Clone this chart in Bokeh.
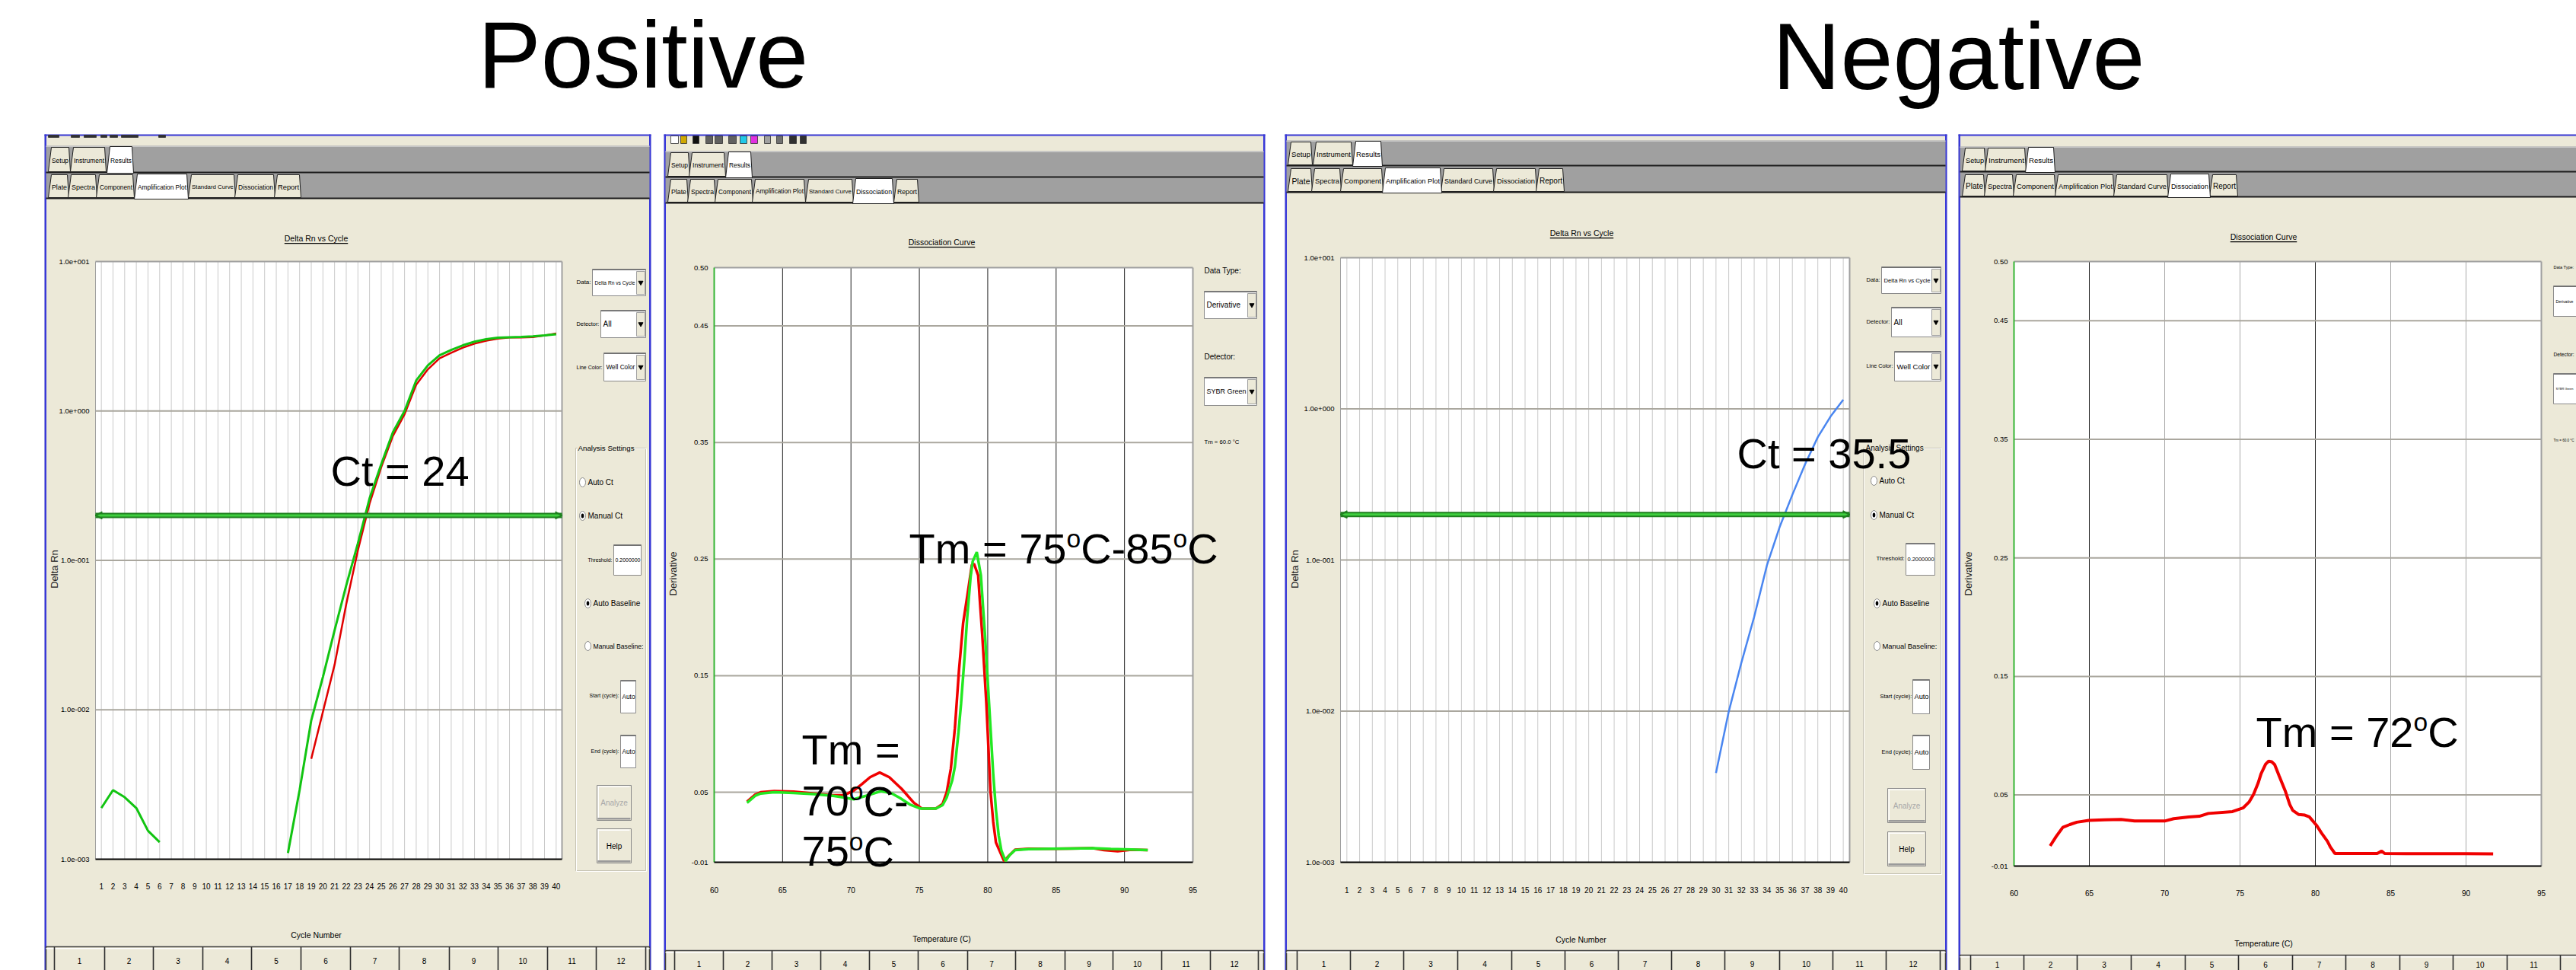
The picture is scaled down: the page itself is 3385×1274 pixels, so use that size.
import math
from bokeh.plotting import figure
from bokeh.models import Range1d, LogScale, ColumnDataSource, Arrow, OpenHead
from bokeh.embed import file_html
from bokeh.resources import INLINE
from bokeh.core.properties import value

NaN = float("nan")

# ------------------------------------------------------------------ data
SECTION_TITLES = ["Positive", "Negative"]
CYCLES = list(range(1, 41))
CYCLE_LABELS = [str(c) for c in CYCLES]
AMP_Y_TICKS = [1e-3, 1e-2, 1e-1, 1e0, 1e1]
AMP_Y_LABELS = ["1.0e-003", "1.0e-002", "1.0e-001", "1.0e+000", "1.0e+001"]
MELT_X_TICKS = [60, 65, 70, 75, 80, 85, 90, 95]
MELT_X_LABELS = ["60", "65", "70", "75", "80", "85", "90", "95"]
MELT_Y_TICKS = [-0.01, 0.05, 0.15, 0.25, 0.35, 0.45, 0.50]
MELT_Y_LABELS = ["-0.01", "0.05", "0.15", "0.25", "0.35", "0.45", "0.50"]
WELL_COLUMNS = ["1", "2", "3", "4", "5", "6", "7", "8", "9", "10", "11", "12"]
TABS_TOP = ["Setup", "Instrument", "Results"]
TABS_BOTTOM = ["Plate", "Spectra", "Component", "Amplification Plot",
               "Standard Curve", "Dissociation", "Report"]
THRESHOLD = 0.2

# positive sample, amplification (Delta Rn per cycle; NaN = not shown on the log scale)
POS_AMP_WELL_A = [2.2e-3, 2.9e-3, 2.6e-3, 2.2e-3, 1.55e-3, 1.3e-3,
                  NaN, NaN, NaN, NaN, NaN, NaN, NaN, NaN, NaN, NaN,
                  1.1e-3, 2.9e-3, 8.5e-3, 0.0166, 0.034, 0.068, 0.13, 0.26, 0.44, 0.72,
                  1.0, 1.6, 2.02, 2.36, 2.56, 2.75, 2.91, 3.02, 3.09, 3.11, 3.13, 3.16, 3.2, 3.26]
POS_AMP_WELL_B = [NaN, NaN, NaN, NaN, NaN, NaN, NaN, NaN, NaN, NaN, NaN, NaN, NaN, NaN,
                  NaN, NaN, NaN, NaN,
                  4.7e-3, 9.7e-3, 0.020, 0.051, 0.117, 0.24, 0.42, 0.68, 0.95, 1.5,
                  1.9, 2.25, 2.45, 2.65, 2.82, 2.95, 3.05, 3.1, 3.1, 3.12, 3.2, 3.3]
# negative sample, amplification
NEG_AMP_WELL = [NaN] * 29 + [3.9e-3, 0.0099, 0.021, 0.042, 0.092, 0.165, 0.27, 0.43, 0.65, 0.89, 1.15]

# positive sample, dissociation (derivative vs temperature)
POS_MELT_TEMP_A = [62.4, 63.0, 63.4, 64.4, 65.8, 67.3, 68.7, 69.5, 70.2, 71.1, 72.2, 73.0, 73.6,
                   74.3, 75.1, 76.2, 76.7, 77.0, 77.4, 77.6, 77.85, 78.05, 78.3, 78.5, 78.75,
                   78.9, 79.2, 79.5, 79.65, 79.8, 80.1, 80.4, 80.6, 80.8, 81.0, 81.3, 81.6,
                   82.0, 83.0, 84.75, 86.0, 87.7, 89.0, 90.5, 91.7]
POS_MELT_DERIV_A = [0.041, 0.047, 0.049, 0.050, 0.0495, 0.0485, 0.047, 0.0455, 0.044, 0.047, 0.051,
                    0.049, 0.045, 0.0396, 0.036, 0.036, 0.039, 0.0455, 0.060, 0.072, 0.100, 0.126,
                    0.165, 0.200, 0.235, 0.248, 0.256, 0.236, 0.210, 0.185, 0.126, 0.066, 0.035,
                    0.013, 0.000, -0.009, -0.004, 0.0004, 0.0012, 0.0016, 0.0018, 0.002, 0.0015,
                    0.001, 0.0004]
POS_MELT_TEMP_B = [62.4, 63.0, 63.4, 64.4, 65.8, 67.3, 68.7, 69.5, 70.2, 70.8, 71.4, 72.1, 72.8,
                   73.7, 74.6, 75.2, 76.2, 76.7, 77.0, 77.3, 77.6, 77.9, 78.2, 78.5, 78.84,
                   79.0, 79.3, 79.45, 79.6, 79.9, 80.2, 80.4, 80.6, 81.2, 81.5, 82.0, 83.0,
                   84.75, 86.0, 87.7, 88.5, 89.5, 90.5, 91.7]
POS_MELT_DERIV_B = [0.042, 0.048, 0.050, 0.051, 0.0505, 0.049, 0.0475, 0.0475, 0.0515, 0.057,
                    0.063, 0.067, 0.063, 0.053, 0.041, 0.036, 0.036, 0.040, 0.050, 0.070, 0.105,
                    0.155, 0.195, 0.218, 0.245, 0.246, 0.236, 0.210, 0.185, 0.126, 0.051, 0.025,
                    0.007, -0.009, -0.005, 0.0008, 0.0016, 0.0016, 0.0018, 0.002, 0.0005,
                    -0.0005, 0.0008, 0.0004]
# negative sample, dissociation
NEG_MELT_TEMP = [62.4, 62.8, 63.24, 63.7, 64.17, 64.97, 66.0, 67.1, 68.0, 69.0, 70.0, 70.6, 71.6,
                 72.3, 72.9, 74.5, 75.2, 75.6, 75.9, 76.2, 76.4, 76.7, 76.9, 77.1, 77.3, 77.6,
                 78.0, 78.3, 78.5, 78.9, 79.3, 79.6, 80.1, 80.4, 80.8, 81.0, 81.3, 82.5, 84.1,
                 84.4, 84.6, 86.0, 88.0, 90.0, 91.8]
NEG_MELT_DERIV = [0.007, 0.015, 0.0227, 0.025, 0.027, 0.0285, 0.029, 0.0294, 0.028, 0.028, 0.028,
                  0.030, 0.0315, 0.032, 0.0344, 0.036, 0.039, 0.044, 0.0506, 0.060, 0.068, 0.076,
                  0.0785, 0.078, 0.0756, 0.066, 0.0535, 0.042, 0.037, 0.0335, 0.033, 0.0315,
                  0.024, 0.018, 0.011, 0.006, 0.0006, 0.0006, 0.0006, 0.0026, 0.0006, 0.0004,
                  0.0004, 0.0004, 0.0002]

# ------------------------------------------------------------------ style / layout
W, H = 3385, 1274
BEIGE = "#ECE9D8"
BAND = "#A0A0A0"
BLUE = "#3838D8"
UI = "Liberation Sans"
BIG = "Liberation Sans"
PANEL_TOP, PANEL_BOTTOM = 176, 1280
AMP_X_RANGE = (0.5, 40.5)
AMP_Y_RANGE = (1e-3, 1e1)
MELT_X_RANGE = (60, 95)
MELT_Y_RANGE = (-0.01, 0.50)
MID = 0.36   # distance baseline -> vertical text centre, in em

AW = {' ': 278, '!': 278, '(': 333, ')': 333, '+': 584, ',': 278, '-': 333, '.': 278, '/': 278,
      ':': 278, '=': 584, '°': 400,
      'A': 667, 'B': 667, 'C': 722, 'D': 722, 'E': 667, 'F': 611, 'G': 778, 'H': 722, 'I': 278,
      'J': 500, 'K': 667, 'L': 556, 'M': 833, 'N': 722, 'O': 778, 'P': 667, 'Q': 778, 'R': 722,
      'S': 667, 'T': 611, 'U': 722, 'V': 667, 'W': 944, 'X': 667, 'Y': 667, 'Z': 611,
      'a': 556, 'b': 556, 'c': 500, 'd': 556, 'e': 556, 'f': 278, 'g': 556, 'h': 556, 'i': 222,
      'j': 222, 'k': 500, 'l': 222, 'm': 833, 'n': 556, 'o': 556, 'p': 556, 'q': 556, 'r': 333,
      's': 500, 't': 278, 'u': 556, 'v': 500, 'w': 722, 'x': 500, 'y': 500, 'z': 500}
for _d in "0123456789":
    AW[_d] = 556


def tw(s, size):
    return sum(AW.get(c, 556) for c in s) / 1000.0 * size


def fit(s, maxw, size=10.0, lo=3.5):
    return max(lo, min(size, maxw / tw(s, 1.0)))


class Scene:
    """Window decoration, in reference-pixel coordinates (y downwards)."""

    def __init__(self):
        self.q = {k: [] for k in ("left", "right", "top", "bottom", "fill", "fa", "line", "la", "lw")}
        self.tb = {k: [] for k in ("xs", "ys", "fill")}
        self.ov = {k: [] for k in ("x", "y", "w", "h", "fill", "line", "la")}
        self.tri = {k: [] for k in ("x", "y")}
        self.t = {k: [] for k in ("x", "y", "text", "size", "color", "align", "angle", "font")}

    def box(self, x1, y1, x2, y2, fill=None, line=None, lw=1.0):
        q = self.q
        q["left"].append(x1); q["right"].append(x2); q["top"].append(y1); q["bottom"].append(y2)
        q["fill"].append(fill or "white"); q["fa"].append(1.0 if fill else 0.0)
        q["line"].append(line or "black"); q["la"].append(1.0 if line else 0.0); q["lw"].append(lw)

    def text(self, x, y, s, size=10.0, color="black", align="left", angle=0.0, font=UI):
        t = self.t
        t["x"].append(x); t["y"].append(y); t["text"].append(s); t["size"].append(f"{size:.2f}px")
        t["color"].append(color); t["align"].append(align); t["angle"].append(angle); t["font"].append(font)

    def rich(self, X, B, parts, size=56):
        x = X
        for s, sup in parts:
            if sup:
                fs = size * 0.6
                cy = B - size * 0.38 - MID * fs
            else:
                fs = size
                cy = B - MID * fs
            self.text(x, cy, s, size=fs, font=BIG)
            x += tw(s, fs)

    def panel(self, x0, x1, right=True):
        self.box(x0, PANEL_TOP, x1, PANEL_BOTTOM, BEIGE)
        self.box(x0, PANEL_TOP, x0 + 2.5, PANEL_BOTTOM, BLUE)
        self.box(x0, PANEL_TOP, x1, PANEL_TOP + 2, BLUE)
        if right:
            self.box(x1 - 2.5, PANEL_TOP, x1, PANEL_BOTTOM, BLUE)

    def frame(self, fr):
        self.box(fr[0], fr[1], fr[2], fr[3], "white")

    def tab(self, label, x1, x2, yt, yb, selected):
        if selected:
            xs, ys, fill = [x1, x1 + 4, x2, x2 + 2], [yb + 2, yt - 1, yt - 1, yb + 2], "white"
        else:
            xs, ys, fill = [x1, x1 + 4, x2, x2 + 2], [yb, yt, yt, yb], BEIGE
        self.tb["xs"].append(xs); self.tb["ys"].append(ys); self.tb["fill"].append(fill)
        self.text((x1 + x2) / 2 + 2, (yt + yb) / 2 + 1, label,
                  size=fit(label, x2 - x1 - 5, 10.5), align="center")

    def tabbars(self, x1, x2, band1, band2, row1, row2, sel1, sel2):
        self.box(x1, band1[0], x2, band2[1], BAND)
        self.box(x1, band1[0], x2, band1[0] + 1.5, "#c8c8c8")
        self.box(x1, band1[1] - 1, x2, band1[1] + 1, "#1c1c1c")
        self.box(x1, band2[1] - 1, x2, band2[1] + 1, "#1c1c1c")
        for names, spans, sel, band in ((TABS_TOP, row1, sel1, band1), (TABS_BOTTOM, row2, sel2, band2)):
            for name, (a, b) in zip(names, spans):
                if name != sel:
                    self.tab(name, a, b, band[0] + 2, band[1] - 1, False)
            for name, (a, b) in zip(names, spans):
                if name == sel:
                    self.tab(name, a, b, band[0] + 2, band[1] - 1, True)

    def title(self, cx, cy, s):
        size = 10.5
        w = tw(s, size)
        self.text(cx, cy, s, size=size, align="center")
        self.box(cx - w / 2, cy + 6.5, cx + w / 2, cy + 7.8, "#000000")

    def ylabel(self, x, y, s):
        self.text(x, y, s, size=13, color="#202020", align="center", angle=math.pi / 2)

    def xlabel(self, x, y, s):
        self.text(x, y, s, size=10.5, align="center")

    def dropdown(self, x1, y1, x2, y2, s, maxw=None):
        cy = (y1 + y2) / 2
        self.box(x1, y1, x2, y2, "white", "#8a8a8a", 1)
        self.box(x1, y1, x2, y1 + 1.5, "#707070")
        self.box(x2 - 12, y1 + 3, x2 - 1, y2 - 2, BEIGE, "#a0a0a0", 1)
        self.tri["x"].append(x2 - 6.5); self.tri["y"].append(cy)
        self.text(x1 + 3, cy, s, size=fit(s, maxw if maxw else x2 - x1 - 17, 10))

    def textbox(self, x1, y1, x2, y2, s):
        self.box(x1, y1, x2, y2, "white", "#8a8a8a", 1)
        self.box(x1, y1, x2, y1 + 1.5, "#707070")
        self.text(x1 + 2, (y1 + y2) / 2, s, size=fit(s, x2 - x1 - 3, 10))

    def radio(self, x, y, s, selected, maxw):
        o = self.ov
        o["x"].append(x); o["y"].append(y); o["w"].append(8); o["h"].append(12)
        o["fill"].append("white"); o["line"].append("#8a8a8a"); o["la"].append(1.0)
        if selected:
            o["x"].append(x); o["y"].append(y); o["w"].append(3.6); o["h"].append(6)
            o["fill"].append("black"); o["line"].append("black"); o["la"].append(0.0)
        self.text(x + 7, y, s, size=fit(s, maxw, 10))

    def button(self, x1, y1, x2, y2, s, enabled=True):
        self.box(x1, y1, x2, y2, BEIGE, "#8a8a8a", 1)
        self.box(x1 + 1, y1 + 1, x2 - 2, y1 + 2.5, "white")
        self.box(x1 + 1, y1 + 1, x1 + 2.5, y2 - 2, "white")
        self.box(x1 + 1, y2 - 3.5, x2 - 1, y2 - 1, "#9a9a9a")
        self.text((x1 + x2) / 2, (y1 + y2) / 2, s, size=fit(s, x2 - x1 - 6, 10), align="center",
                  color="black" if enabled else "#a8a8a8")

    def label(self, x, y, s, maxw):
        self.text(x, y, s, size=fit(s, maxw, 10))

    def group(self, x1, y1, x2, y2, s):
        self.box(x1, y1, x2, y2, None, "#c5c2b2", 1)
        self.box(x1 + 1, y1 + 1, x2 + 1, y2 + 1, None, "#ffffff", 1)
        size = fit(s, x2 - x1 - 18, 10)
        self.box(x1 + 2, y1 - 6, x1 + 4 + tw(s, size), y1 + 6, BEIGE)
        self.text(x1 + 3, y1, s, size=size)

    def table(self, x1, x2, yt, bounds, ty):
        self.box(x1, yt, x2, PANEL_BOTTOM, BEIGE, "#404040", 1.5)
        self.box(x1, yt + 1.5, x2, yt + 3, "white")
        for b in bounds:
            self.box(b - 0.8, yt, b + 0.8, PANEL_BOTTOM, "#2e2e2e")
        for i, lab in enumerate(WELL_COLUMNS):
            if i + 1 < len(bounds):
                cx = (bounds[i] + bounds[i + 1]) / 2
                if cx + 8 < W:
                    self.text(cx, ty, lab, size=10, align="center")

    def icons(self, specs, y1, y2):
        for a, b, c in specs:
            self.box(a, y1, b, y2, c, "#303030", 0.8)


sc = Scene()

# ------------------------------------------------------------------ panel geometry
F1 = (125, 343, 738, 1128)
F2 = (938, 351, 1567, 1132)
F3 = (1761, 338, 2430, 1132)
F4 = (2646, 343, 3339, 1137)

# panel 1 : positive, amplification plot
sc.panel(58, 855)
sc.frame(F1)
sc.icons([(63, 77, "#303030"), (93, 104, "#303030"), (110, 126, "#303030"), (132, 140, "#303030"),
          (144, 154, "#303030"), (159, 181, "#303030"), (208, 217, "#303030")], 177, 180)
sc.tabbars(60, 853, (191, 226), (227, 260),
           [(63, 90), (92, 137), (140, 173)],
           [(63, 88), (89, 125), (126, 174), (176, 245), (247, 307), (308, 359), (360, 393)],
           "Results", "Amplification Plot")
sc.title(415, 312, "Delta Rn vs Cycle")
sc.ylabel(71, 747, "Delta Rn")
sc.xlabel(415, 1227, "Cycle Number")
sc.label(757, 370, "Data:", 19)
sc.dropdown(778, 353, 848, 388, "Delta Rn vs Cycle")
sc.label(757, 425, "Detector:", 30)
sc.dropdown(789, 407, 848, 443, "All")
sc.label(757, 482, "Line Color:", 34)
sc.dropdown(793, 463, 848, 500, "Well Color")
sc.group(756, 588, 848, 1143, "Analysis Settings")
sc.radio(765, 633, "Auto Ct", False, 70)
sc.radio(765, 677, "Manual Ct", True, 70)
sc.label(772, 735, "Threshold:", 32)
sc.textbox(806, 715, 842, 755, "0.2000000")
sc.radio(772, 792, "Auto Baseline", True, 66)
sc.radio(772, 848, "Manual Baseline:", False, 66)
sc.label(774, 913, "Start (cycle):", 39)
sc.textbox(815, 893, 835, 936, "Auto")
sc.label(776, 986, "End (cycle):", 37)
sc.textbox(815, 965, 835, 1008, "Auto")
sc.button(784, 1031, 829, 1077, "Analyze", enabled=False)
sc.button(784, 1088, 829, 1133, "Help")
sc.table(60, 853, 1243, [71, 137, 201, 266, 330, 395, 460, 524, 590, 654, 719, 783, 848], 1261)

# panel 2 : positive, dissociation curve
sc.panel(872, 1662)
sc.frame(F2)
sc.icons([(881, 891, "#ffffff"), (894, 902, "#d0a800"), (910, 918, "#101010"), (927, 936, "#606060"),
          (939, 949, "#606060"), (957, 967, "#606060"), (972, 981, "#20c8e8"), (986, 995, "#e030e0"),
          (1004, 1012, "#a0a0a0"), (1020, 1028, "#707070"), (1037, 1046, "#303030"),
          (1051, 1059, "#303030")], 178, 188)
sc.tabbars(874, 1660, (198, 232), (233, 266),
           [(877, 904), (905, 951), (953, 986)],
           [(877, 902), (903, 938), (939, 987), (988, 1056), (1058, 1119), (1120, 1172), (1174, 1205)],
           "Results", "Dissociation")
sc.title(1237, 317, "Dissociation Curve")
sc.ylabel(884, 753, "Derivative")
sc.xlabel(1237, 1232, "Temperature (C)")
sc.label(1582, 355, "Data Type:", 60)
sc.dropdown(1582, 382, 1651, 418, "Derivative")
sc.label(1582, 468, "Detector:", 60)
sc.dropdown(1582, 495, 1651, 532, "SYBR Green")
sc.label(1582, 580, "Tm = 60.0 °C", 46)
sc.table(874, 1660, 1248, [886, 950, 1014, 1078, 1142, 1206, 1271, 1334, 1399, 1462, 1526, 1590, 1653],
         1265)

# panel 3 : negative, amplification plot
sc.panel(1688, 2558)
sc.frame(F3)
sc.tabbars(1690, 2556, (184, 217), (219, 252),
           [(1692, 1722), (1725, 1775), (1777, 1814)],
           [(1692, 1722), (1723, 1760), (1761, 1815), (1816, 1892), (1893, 1961), (1962, 2017),
            (2018, 2053)],
           "Results", "Amplification Plot")
sc.title(2078, 305, "Delta Rn vs Cycle")
sc.ylabel(1701, 747, "Delta Rn")
sc.xlabel(2077, 1233, "Cycle Number")
sc.label(2452, 367, "Data:", 18)
sc.dropdown(2472, 350, 2550, 385, "Delta Rn vs Cycle")
sc.label(2452, 422, "Detector:", 31)
sc.dropdown(2485, 403, 2550, 442, "All")
sc.label(2452, 480, "Line Color:", 35)
sc.dropdown(2489, 461, 2550, 500, "Well Color")
sc.group(2448, 588, 2550, 1147, "Analysis Settings")
sc.radio(2462, 631, "Auto Ct", False, 76)
sc.radio(2462, 676, "Manual Ct", True, 76)
sc.label(2465, 733, "Threshold:", 37)
sc.textbox(2504, 713, 2542, 755, "0.2000000")
sc.radio(2466, 792, "Auto Baseline", True, 72)
sc.radio(2466, 848, "Manual Baseline:", False, 72)
sc.label(2470, 914, "Start (cycle):", 42)
sc.textbox(2513, 892, 2535, 937, "Auto")
sc.label(2472, 987, "End (cycle):", 40)
sc.textbox(2513, 965, 2535, 1010, "Auto")
sc.button(2480, 1035, 2530, 1080, "Analyze", enabled=False)
sc.button(2480, 1092, 2530, 1137, "Help")
sc.table(1690, 2556, 1248, [1704, 1774, 1844, 1915, 1986, 2056, 2126, 2196, 2266, 2338, 2408, 2478, 2549],
         1265)

# panel 4 : negative, dissociation curve (cut at the right edge)
sc.panel(2573, W + 10, right=False)
sc.frame(F4)
sc.tabbars(2575, W + 10, (192, 225), (227, 258),
           [(2578, 2607), (2608, 2660), (2661, 2698)],
           [(2578, 2606), (2607, 2644), (2645, 2699), (2700, 2776), (2777, 2847), (2848, 2902),
            (2903, 2938)],
           "Results", "Dissociation")
sc.title(2974, 310, "Dissociation Curve")
sc.ylabel(2586, 753, "Derivative")
sc.xlabel(2974, 1238, "Temperature (C)")
sc.label(3355, 350, "Data Type:", W - 3358)
sc.dropdown(3355, 375, 3425, 415, "Derivative", maxw=W - 3362)
sc.label(3355, 465, "Detector:", W - 3358)
sc.dropdown(3355, 490, 3425, 530, "SYBR Green", maxw=W - 3362)
sc.label(3355, 578, "Tm = 60.0 °C", W - 3358)
sc.table(2575, W + 10, 1254, [2589, 2659, 2729, 2800, 2871, 2941, 3012, 3082, 3153, 3223, 3294, 3364, 3434],
         1266)

# overlaid annotations
sc.rich(434, 638, [("Ct = 24", False)])
sc.rich(1194, 740, [("Tm = 75", False), ("o", True), ("C-85", False), ("o", True), ("C", False)])
sc.rich(1053, 1004, [("Tm =", False)])
sc.rich(1053, 1072, [("70", False), ("o", True), ("C-", False)])
sc.rich(1053, 1138, [("75", False), ("o", True), ("C", False)])
sc.rich(2282, 615, [("Ct = 35.5", False)])
sc.rich(2964, 981, [("Tm = 72", False), ("o", True), ("C", False)])
sc.text(627.5, 116 - MID * 124, SECTION_TITLES[0], size=124, font=BIG)
sc.text(2328.5, 73, SECTION_TITLES[1], size=124, font=BIG)

# ------------------------------------------------------------------ figure
p = figure(width=W, height=H, x_range=Range1d(0, W), y_range=Range1d(H, 0),
           output_backend="svg", toolbar_location=None, tools="",
           x_axis_location=None, y_axis_location=None, min_border=0)
p.grid.visible = False
p.outline_line_color = None
p.background_fill_color = "white"
p.border_fill_color = "white"

p.quad(left="left", right="right", top="top", bottom="bottom", fill_color="fill", fill_alpha="fa",
       line_color="line", line_alpha="la", line_width="lw", source=ColumnDataSource(sc.q))
p.patches(xs="xs", ys="ys", fill_color="fill", line_color="#202020", line_width=1,
          source=ColumnDataSource(sc.tb))
p.ellipse(x="x", y="y", width="w", height="h", fill_color="fill", line_color="line", line_alpha="la",
          source=ColumnDataSource(sc.ov))
p.scatter(x="x", y="y", marker="inverted_triangle", size=6, fill_color="black", line_color="black",
          source=ColumnDataSource(sc.tri))


def data_ranges(key, xr, yr, fr, log):
    fl, ft, frr, fb = fr
    kx = (xr[1] - xr[0]) / (frr - fl)
    p.extra_x_ranges[key + "x"] = Range1d(xr[0] - fl * kx, xr[1] + (W - frr) * kx)
    if log:
        l0, l1 = math.log10(yr[0]), math.log10(yr[1])
        ky = (l1 - l0) / (fb - ft)
        p.extra_y_ranges[key + "y"] = Range1d(10 ** (l0 - (H - fb) * ky), 10 ** (l1 + ft * ky))
        p.extra_y_scales[key + "y"] = LogScale()
    else:
        ky = (yr[1] - yr[0]) / (fb - ft)
        p.extra_y_ranges[key + "y"] = Range1d(yr[0] - (H - fb) * ky, yr[1] + ft * ky)
    return dict(x_range_name=key + "x", y_range_name=key + "y")


def frame_lines(kw, xr, yr, left_color, left_width):
    p.segment(x0=[xr[0], xr[1]], x1=[xr[1], xr[1]], y0=[yr[1], yr[0]], y1=[yr[1], yr[1]],
              line_color="#a0a0a0", line_width=2, **kw)
    p.segment(x0=[xr[0]], x1=[xr[0]], y0=[yr[0]], y1=[yr[1]], line_color=left_color,
              line_width=left_width, **kw)
    p.segment(x0=[xr[0]], x1=[xr[1]], y0=[yr[0]], y1=[yr[0]], line_color="black", line_width=2, **kw)


def tick_labels(kw, fr, xticks, xlabels, xlab_y, yticks, ylabels):
    p.text(x=xticks, y=[xlab_y] * len(xticks), text=xlabels, x_range_name=kw["x_range_name"],
           text_align="center", text_baseline="middle", text_font=value(UI),
           text_font_size="10px", text_color="black")
    p.text(x=[fr[0] - 8] * len(yticks), y=yticks, text=ylabels, y_range_name=kw["y_range_name"],
           text_align="right", text_baseline="middle", text_font=value(UI),
           text_font_size="9.5px", text_color="black")


def amp_plot(key, fr, xlab_y, curves):
    kw = data_ranges(key, AMP_X_RANGE, AMP_Y_RANGE, fr, True)
    n = len(CYCLES)
    p.segment(x0=CYCLES, x1=CYCLES, y0=[AMP_Y_RANGE[0]] * n, y1=[AMP_Y_RANGE[1]] * n,
              line_color="#cacaca", line_width=1, **kw)
    mids = AMP_Y_TICKS[1:-1]
    p.segment(x0=[AMP_X_RANGE[0]] * len(mids), x1=[AMP_X_RANGE[1]] * len(mids), y0=mids, y1=mids,
              line_color="#aaa79e", line_width=2, **kw)
    frame_lines(kw, AMP_X_RANGE, AMP_Y_RANGE, "#a0a0a0", 1)
    for ys, color, lw in curves:
        p.line(CYCLES, ys, line_color=color, line_width=lw, **kw)
    p.line(list(AMP_X_RANGE), [THRESHOLD, THRESHOLD], line_color="#1f7f1f", line_width=7, **kw)
    p.line(list(AMP_X_RANGE), [THRESHOLD, THRESHOLD], line_color="#3fcf3f", line_width=3, **kw)
    p.add_layout(Arrow(start=OpenHead(size=9, line_color="#1f7f1f", line_width=2),
                       end=OpenHead(size=9, line_color="#1f7f1f", line_width=2),
                       x_start=AMP_X_RANGE[0], y_start=THRESHOLD, x_end=AMP_X_RANGE[1],
                       y_end=THRESHOLD, line_alpha=0, **kw))
    tick_labels(kw, fr, CYCLES, CYCLE_LABELS, xlab_y, AMP_Y_TICKS, AMP_Y_LABELS)


def melt_plot(key, fr, xlab_y, dark, light, curves):
    kw = data_ranges(key, MELT_X_RANGE, MELT_Y_RANGE, fr, False)
    if light:
        p.segment(x0=light, x1=light, y0=[MELT_Y_RANGE[0]] * len(light),
                  y1=[MELT_Y_RANGE[1]] * len(light), line_color="#a9a9a9", line_width=1, **kw)
    p.segment(x0=dark, x1=dark, y0=[MELT_Y_RANGE[0]] * len(dark), y1=[MELT_Y_RANGE[1]] * len(dark),
              line_color="#202020", line_width=1, **kw)
    mids = MELT_Y_TICKS[1:-1]
    p.segment(x0=[MELT_X_RANGE[0]] * len(mids), x1=[MELT_X_RANGE[1]] * len(mids), y0=mids, y1=mids,
              line_color="#aaa79e", line_width=2, **kw)
    frame_lines(kw, MELT_X_RANGE, MELT_Y_RANGE, "#35b535", 2)
    for xs, ys, color, lw in curves:
        p.line(xs, ys, line_color=color, line_width=lw, **kw)
    tick_labels(kw, fr, MELT_X_TICKS, MELT_X_LABELS, xlab_y, MELT_Y_TICKS, MELT_Y_LABELS)


amp_plot("a1", F1, 1163, [(POS_AMP_WELL_B, "#e00000", 2.5), (POS_AMP_WELL_A, "#12c412", 3)])
melt_plot("m1", F2, 1168, [65, 70, 75, 80, 85, 90], [],
          [(POS_MELT_TEMP_B, POS_MELT_DERIV_B, "#f00000", 3.5),
           (POS_MELT_TEMP_A, POS_MELT_DERIV_A, "#22e822", 3.5)])
amp_plot("a2", F3, 1168, [(NEG_AMP_WELL, "#4a86f0", 2.5)])
melt_plot("m2", F4, 1172, [65, 80], [70, 75, 85, 90],
          [(NEG_MELT_TEMP, NEG_MELT_DERIV, "#f00000", 4)])

p.text(x="x", y="y", text="text", text_font_size="size", text_color="color", text_align="align",
       angle="angle", text_font="font", text_baseline="middle", source=ColumnDataSource(sc.t))

open("out.html", "w").write(file_html(p, INLINE))
